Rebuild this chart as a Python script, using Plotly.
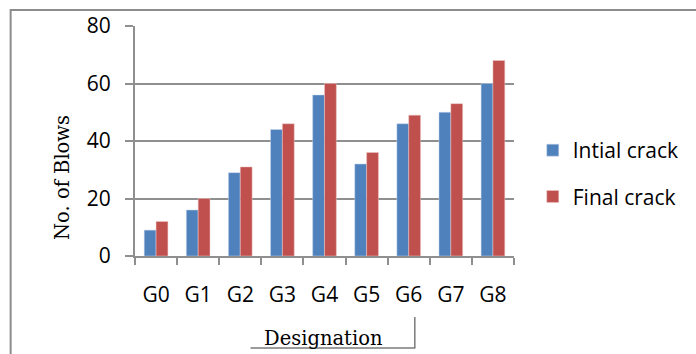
import plotly.graph_objects as go

# Data
designations = ["G0", "G1", "G2", "G3", "G4", "G5", "G6", "G7", "G8"]
initial_crack = [9, 16, 29, 44, 56, 32, 46, 50, 60]
final_crack = [12, 20, 31, 46, 60, 36, 49, 53, 68]
y_ticks = [0, 20, 40, 60, 80]

W, H = 696, 354
ML, MR, MT, MB = 135, 177, 26, 98
PW, PH = W - ML - MR, H - MT - MB


def px_to_paper_x(px):
    return (px - ML) / PW


def px_to_paper_y(py):
    return (H - MB - py) / PH


GRID = "#8f8f8f"
TICK_FONT = dict(family="Open Sans", size=21, color="#000000")
SERIF = dict(family="DejaVu Serif", size=19.5, color="#000000")

fig = go.Figure()
fig.add_trace(go.Bar(
    x=designations, y=initial_crack, name="Intial crack",
    marker=dict(color="#4F81BD", line=dict(color="#c9d6ea", width=0.5)),
    legendgroup="a",
))
fig.add_trace(go.Bar(
    x=designations, y=final_crack, name="Final crack",
    marker=dict(color="#C0504D", line=dict(color="#ecc9c8", width=0.5)),
    legendgroup="b",
))

shapes = [
    # outer chart frame
    dict(type="rect", xref="paper", yref="paper",
         x0=px_to_paper_x(9), x1=px_to_paper_x(710),
         y0=px_to_paper_y(370), y1=px_to_paper_y(10),
         line=dict(color="#8c8c8c", width=2), fillcolor="rgba(0,0,0,0)",
         layer="below"),
    # box edges around the x-axis title
    dict(type="line", xref="paper", yref="paper",
         x0=px_to_paper_x(252), x1=px_to_paper_x(419),
         y0=px_to_paper_y(348), y1=px_to_paper_y(348),
         line=dict(color="#7a7a7a", width=1.5)),
    dict(type="line", xref="paper", yref="paper",
         x0=px_to_paper_x(418.5), x1=px_to_paper_x(418.5),
         y0=px_to_paper_y(317), y1=px_to_paper_y(348),
         line=dict(color="#7a7a7a", width=1.5)),
]

annotations = [
    dict(text="Designation", xref="paper", yref="paper",
         x=px_to_paper_x(326), y=px_to_paper_y(338),
         xanchor="center", yanchor="middle", showarrow=False, font=SERIF),
    dict(text="No. of Blows", xref="paper", yref="paper",
         x=px_to_paper_x(61), y=px_to_paper_y(177),
         xanchor="center", yanchor="middle", showarrow=False,
         textangle=-90, font=SERIF),
]

fig.update_layout(
    width=W, height=H,
    margin=dict(l=ML, r=MR, t=MT, b=MB),
    paper_bgcolor="white", plot_bgcolor="white",
    barmode="group", bargap=0.4375, bargroupgap=0,
    showlegend=True,
    legend=dict(x=px_to_paper_x(538), y=px_to_paper_y(130),
                xanchor="left", yanchor="top",
                font=dict(family="Open Sans", size=21, color="#000000"),
                tracegroupgap=16, bgcolor="rgba(0,0,0,0)"),
    shapes=shapes, annotations=annotations,
    xaxis=dict(
        type="category", tickson="boundaries", ticks="outside", ticklen=7,
        tickcolor=GRID, tickwidth=2, showline=True, linecolor=GRID, linewidth=2,
        showgrid=False, tickfont=TICK_FONT, ticklabelstandoff=19,
    ),
    yaxis=dict(
        range=[0, 80], tickvals=y_ticks, ticks="outside", ticklen=8,
        tickcolor=GRID, tickwidth=2, showline=True, linecolor=GRID, linewidth=2,
        showgrid=True, gridcolor=GRID, gridwidth=2, zeroline=False,
        tickfont=TICK_FONT, ticklabelstandoff=10,
    ),
)

fig.write_html("out.html")
